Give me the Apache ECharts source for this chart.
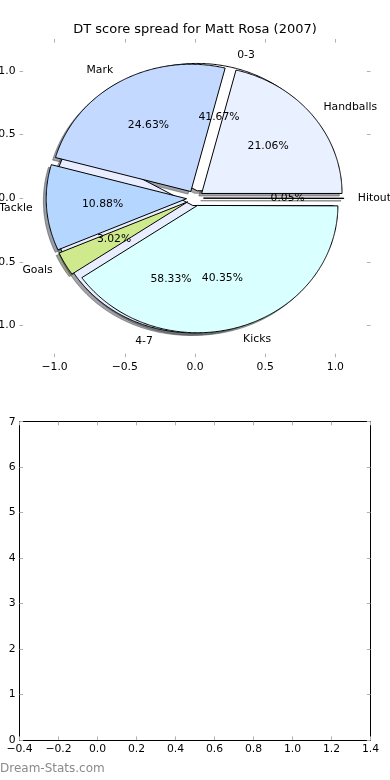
<!DOCTYPE html>
<html><head><meta charset="utf-8">
<script src="https://cdn.jsdelivr.net/npm/echarts@6/dist/echarts.min.js"></script>
<style>html,body{margin:0;padding:0;background:#fff}#c{width:390px;height:780px}</style>
</head><body><div id="c"></div><script>
const titleText = 'DT score spread for Matt Rosa (2007)';
const watermarkText = 'Dream-Stats.com';
const rangeLabels = ['0-3', '4-7'];
const rangeValues = [41.67, 58.33];
const rangeColors = ['#ffffff', '#e8edff'];
const breakdownLabels = ['Handballs', 'Mark', 'Tackle', 'Goals', 'Kicks', 'Hitout'];
const breakdownValues = [21.06, 24.63, 10.88, 3.02, 40.35, 0.05];
const breakdownColors = ['#e9f0ff', '#c4d9ff', '#b5d6ff', '#cfea8c', '#d9ffff', '#ffffff'];
const pieTicks = [-1.0, -0.5, 0.0, 0.5, 1.0];
const pieExplode = 0.06;

const FONT = '"DejaVu Sans", "Liberation Sans", sans-serif';
const FS = 10.8;

function geometry(values, explode) {
  const total = values.reduce((a, b) => a + b, 0);
  let acc = 0;
  return values.map(v => {
    const t1 = acc / total * Math.PI * 2;
    acc += v;
    const t2 = acc / total * Math.PI * 2;
    const mid = (t1 + t2) / 2;
    return { t1, t2, mid, cx: explode * Math.cos(mid), cy: explode * Math.sin(mid) };
  });
}
const rangeGeo = geometry(rangeValues, pieExplode);
const breakdownGeo = geometry(breakdownValues, pieExplode);

function wedgePoints(api, g, dx, dy) {
  const pts = [api.coord([g.cx + dx, g.cy + dy])];
  const n = Math.max(2, Math.ceil((g.t2 - g.t1) / (Math.PI / 360)));
  for (let k = 0; k <= n; k++) {
    const a = g.t1 + (g.t2 - g.t1) * k / n;
    pts.push(api.coord([g.cx + dx + Math.cos(a), g.cy + dy + Math.sin(a)]));
  }
  return pts;
}
function shadowColor(hex) {
  const r = parseInt(hex.slice(1, 3), 16) * 0.3, g = parseInt(hex.slice(3, 5), 16) * 0.3, b = parseInt(hex.slice(5, 7), 16) * 0.3;
  return 'rgba(' + Math.round(r) + ',' + Math.round(g) + ',' + Math.round(b) + ',0.5)';
}
function shadowSeries(values, geo, colors) {
  return {
    type: 'custom', xAxisIndex: 0, yAxisIndex: 0, silent: true,
    data: values.map(v => [0, 0, v]),
    renderItem: (params, api) => {
      const i = params.dataIndex;
      const c = shadowColor(colors[i]);
      return { type: 'polygon', shape: { points: wedgePoints(api, geo[i], -0.02, -0.02) },
        style: { fill: c, stroke: c, lineWidth: 1 } };
    }
  };
}
function wedgeSeries(values, geo, colors) {
  return {
    type: 'custom', xAxisIndex: 0, yAxisIndex: 0, silent: true,
    data: values.map(v => [0, 0, v]),
    renderItem: (params, api) => {
      const i = params.dataIndex;
      return { type: 'polygon', shape: { points: wedgePoints(api, geo[i], 0, 0) },
        style: { fill: colors[i], stroke: '#000', lineWidth: 1 } };
    }
  };
}
function labelSeries(values, labels, geo) {
  return {
    type: 'custom', xAxisIndex: 0, yAxisIndex: 0, silent: true,
    data: values.map(v => [0, 0, v]),
    renderItem: (params, api) => {
      const i = params.dataIndex;
      const g = geo[i];
      const lx = g.cx + 1.1 * Math.cos(g.mid), ly = g.cy + 1.1 * Math.sin(g.mid);
      const px = g.cx + 0.6 * Math.cos(g.mid), py = g.cy + 0.6 * Math.sin(g.mid);
      const lp = api.coord([lx, ly]), pp = api.coord([px, py]);
      return { type: 'group', children: [
        { type: 'text', x: lp[0], y: lp[1], style: { text: labels[i], fill: '#000', fontSize: FS, fontFamily: FONT,
          align: lx > 0 ? 'left' : 'right', verticalAlign: 'middle' } },
        { type: 'text', x: pp[0], y: pp[1], style: { text: api.value(2).toFixed(2) + '%', fill: '#000', fontSize: FS, fontFamily: FONT,
          align: 'center', verticalAlign: 'middle' } }
      ] };
    }
  };
}

const fmt1 = v => (v < -1e-9 ? '\u2212' : '') + Math.abs(v).toFixed(1);
const fmt0 = v => String(Math.round(v));
const tickStyle = { color: '#b0b0b0', width: 1 };
const labelStyle = { color: '#000', fontSize: FS, fontFamily: FONT };

function pieAxis(pos, showLabel) {
  return {
    type: 'value', gridIndex: 0, position: pos, min: -1.25, max: 1.25,
    axisLine: { show: false, onZero: false },
    axisTick: { show: true, inside: true, length: 3.6, customValues: pieTicks, lineStyle: tickStyle },
    axisLabel: { show: showLabel, customValues: pieTicks, formatter: fmt1, margin: 4, ...labelStyle },
    splitLine: { show: false }
  };
}
function boxAxis(pos, min, max, interval, fmt, showLabel) {
  return {
    type: 'value', gridIndex: 1, position: pos, min, max, interval,
    axisLine: { show: true, onZero: false, lineStyle: { color: '#000', width: 1 } },
    axisTick: { show: true, inside: true, length: 3.6, lineStyle: tickStyle },
    axisLabel: { show: showLabel, formatter: fmt, margin: 4, ...labelStyle },
    splitLine: { show: false }
  };
}

const chart = echarts.init(document.getElementById('c'), null, { renderer: 'canvas' });
chart.setOption({
  animation: false,
  backgroundColor: '#fff',
  title: { text: titleText, left: 'center', top: 23, padding: 0,
    textStyle: { fontSize: 13, fontWeight: 'normal', fontFamily: FONT, color: '#000' } },
  grid: [
    { left: 19.5, top: 39, width: 351, height: 318.3, containLabel: false, outerBoundsMode: 'none' },
    { left: 19.5, top: 421.7, width: 351, height: 318.3, containLabel: false, outerBoundsMode: 'none' }
  ],
  xAxis: [
    pieAxis('bottom', true), pieAxis('top', false),
    boxAxis('bottom', -0.4, 1.4, 0.2, fmt1, true), boxAxis('top', -0.4, 1.4, 0.2, fmt1, false)
  ],
  yAxis: [
    pieAxis('left', true), pieAxis('right', false),
    boxAxis('left', 0, 7, 1, fmt0, true), boxAxis('right', 0, 7, 1, fmt0, false)
  ],
  graphic: [
    { type: 'text', left: 0, top: 763, style: { text: watermarkText, fill: '#8a8a8a', fontSize: 12, fontFamily: FONT } }
  ],
  series: [
    shadowSeries(rangeValues, rangeGeo, rangeColors),
    shadowSeries(breakdownValues, breakdownGeo, breakdownColors),
    wedgeSeries(rangeValues, rangeGeo, rangeColors),
    wedgeSeries(breakdownValues, breakdownGeo, breakdownColors),
    labelSeries(rangeValues, rangeLabels, rangeGeo),
    labelSeries(breakdownValues, breakdownLabels, breakdownGeo)
  ]
});
</script></body></html>
